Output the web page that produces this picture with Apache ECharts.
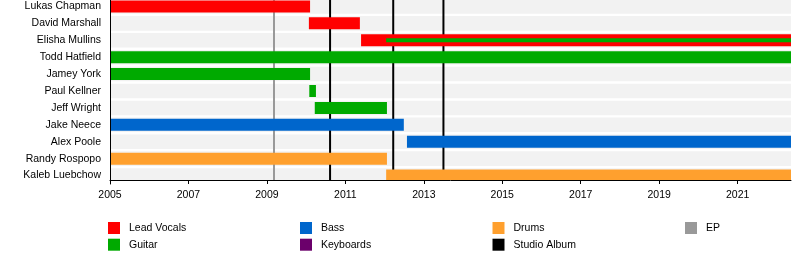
<!DOCTYPE html>
<html><head><meta charset="utf-8">
<script src="https://cdn.jsdelivr.net/npm/echarts@6/dist/echarts.min.js"></script>
<style>html,body{margin:0;padding:0;background:#fff}#c{width:800px;height:260px}</style>
</head><body><div id="c"></div>
<script>
// ---------- data ----------
const members = ['Lukas Chapman', 'David Marshall', 'Elisha Mullins', 'Todd Hatfield', 'Jamey York',
  'Paul Kellner', 'Jeff Wright', 'Jake Neece', 'Alex Poole', 'Randy Rospopo', 'Kaleb Luebchow'];
const periodStart = 2005;
const periodEnd = 2022.36;
const tickYears = [2005, 2007, 2009, 2011, 2013, 2015, 2017, 2019, 2021];

const leadVocals = [['Lukas Chapman', 2005, 2010.10], ['David Marshall', 2010.07, 2011.37], ['Elisha Mullins', 2011.40, 2022.36]];
const guitar = [['Todd Hatfield', 2005, 2022.36], ['Jamey York', 2005, 2010.10], ['Paul Kellner', 2010.08, 2010.25], ['Jeff Wright', 2010.22, 2012.06]];
const guitarSecondary = [['Elisha Mullins', 2012.04, 2022.36]];
const bass = [['Jake Neece', 2005, 2012.49], ['Alex Poole', 2012.57, 2022.36]];
const keyboards = [];
const drums = [['Randy Rospopo', 2005, 2012.06], ['Kaleb Luebchow', 2012.04, 2022.36]];
const studioAlbums = [2010.61, 2012.22, 2013.50];
const eps = [2009.18];

const legendColumns = [['Lead Vocals', 'Guitar'], ['Bass', 'Keyboards'], ['Drums', 'Studio Album'], ['EP']];

// ---------- style ----------
const FONT = "'Liberation Sans', Arial, sans-serif";
const AXIS_OFFSET = -4;
const colors = { 'Lead Vocals': '#ff0000', 'Guitar': '#00aa00', 'Bass': '#0066cc', 'Keyboards': '#6b006b',
  'Drums': '#ffa02e', 'Studio Album': '#000000', 'EP': '#999999' };

function toRows(arr) { return arr.map(d => [members.indexOf(d[0]), d[1], d[2]]); }

function barRenderer(ratio) {
  return function (params, api) {
    const idx = api.value(0);
    const p0 = api.coord([api.value(1), idx]);
    const p1 = api.coord([api.value(2), idx]);
    const h = api.size([0, 1])[1] * ratio;
    const cs = params.coordSys;
    const rect = echarts.graphic.clipRectByRect(
      { x: p0[0], y: p0[1] - h / 2, width: p1[0] - p0[0], height: h },
      { x: cs.x, y: cs.y, width: cs.width, height: cs.height + AXIS_OFFSET });
    return rect && { type: 'rect', shape: rect, style: { fill: api.visual('color') } };
  };
}
function vlineRenderer(params, api) {
  const x = api.coord([api.value(0), 0])[0];
  const cs = params.coordSys;
  return { type: 'line', shape: { x1: x, y1: cs.y, x2: x, y2: cs.y + cs.height + AXIS_OFFSET },
    style: { stroke: api.visual('color'), lineWidth: 2 } };
}
function barSeries(name, data, ratio, z) {
  return { type: 'custom', name: name, data: toRows(data), encode: { x: [1, 2], y: 0 },
    itemStyle: { color: colors[name] }, renderItem: barRenderer(ratio), z: z, silent: true };
}
function lineSeries(name, data) {
  return { type: 'custom', name: name, data: data.map(v => [v, 0]), encode: { x: 0, y: 1 },
    itemStyle: { color: colors[name] }, renderItem: vlineRenderer, z: 2, silent: true };
}

const chart = echarts.init(document.getElementById('c'), null, { renderer: 'canvas' });
chart.setOption({
  animation: false,
  backgroundColor: '#ffffff',
  textStyle: { fontFamily: FONT },
  grid: { left: 110, right: 9, top: -2, bottom: 76, containLabel: false, outerBoundsMode: 'none' },
  xAxis: {
    type: 'value', min: periodStart, max: periodEnd, offset: AXIS_OFFSET, z: 10,
    splitLine: { show: false },
    axisLine: { show: true, lineStyle: { color: '#000', width: 1 } },
    axisTick: { show: true, length: 4, lineStyle: { color: '#000' }, customValues: tickYears },
    axisLabel: { customValues: tickYears, color: '#000', fontSize: 10.5, fontFamily: FONT, margin: 10,
      formatter: v => String(v) }
  },
  yAxis: {
    type: 'category', data: members, inverse: true, z: 10,
    axisLine: { show: true, lineStyle: { color: '#000', width: 1 } },
    axisTick: { show: false },
    splitLine: { show: false },
    axisLabel: { color: '#000', fontSize: 10.5, fontFamily: FONT, margin: 9 }
  },
  legend: legendColumns.map((names, i) => ({
    data: names, orient: 'vertical', left: [108, 300, 492.5, 685][i], top: 222, padding: 0,
    icon: 'rect', itemWidth: 12, itemHeight: 12, itemGap: 4.7, selectedMode: false,
    textStyle: { fontSize: 10.5, color: '#000', fontFamily: FONT, lineHeight: 12, padding: [0, 0, 0, 4] }
  })),
  series: [
    { type: 'custom', name: 'bg', data: members.map((m, i) => [i, periodStart, periodEnd]),
      encode: { x: [1, 2], y: 0 }, itemStyle: { color: '#f2f2f2' }, renderItem: barRenderer(0.86), z: 1, silent: true },
    lineSeries('EP', eps),
    lineSeries('Studio Album', studioAlbums),
    barSeries('Lead Vocals', leadVocals, 0.71, 3),
    barSeries('Guitar', guitar, 0.71, 3),
    barSeries('Guitar', guitarSecondary, 0.24, 4),
    barSeries('Bass', bass, 0.71, 3),
    barSeries('Keyboards', keyboards, 0.71, 3),
    barSeries('Drums', drums, 0.71, 3)
  ]
});
</script></body></html>
